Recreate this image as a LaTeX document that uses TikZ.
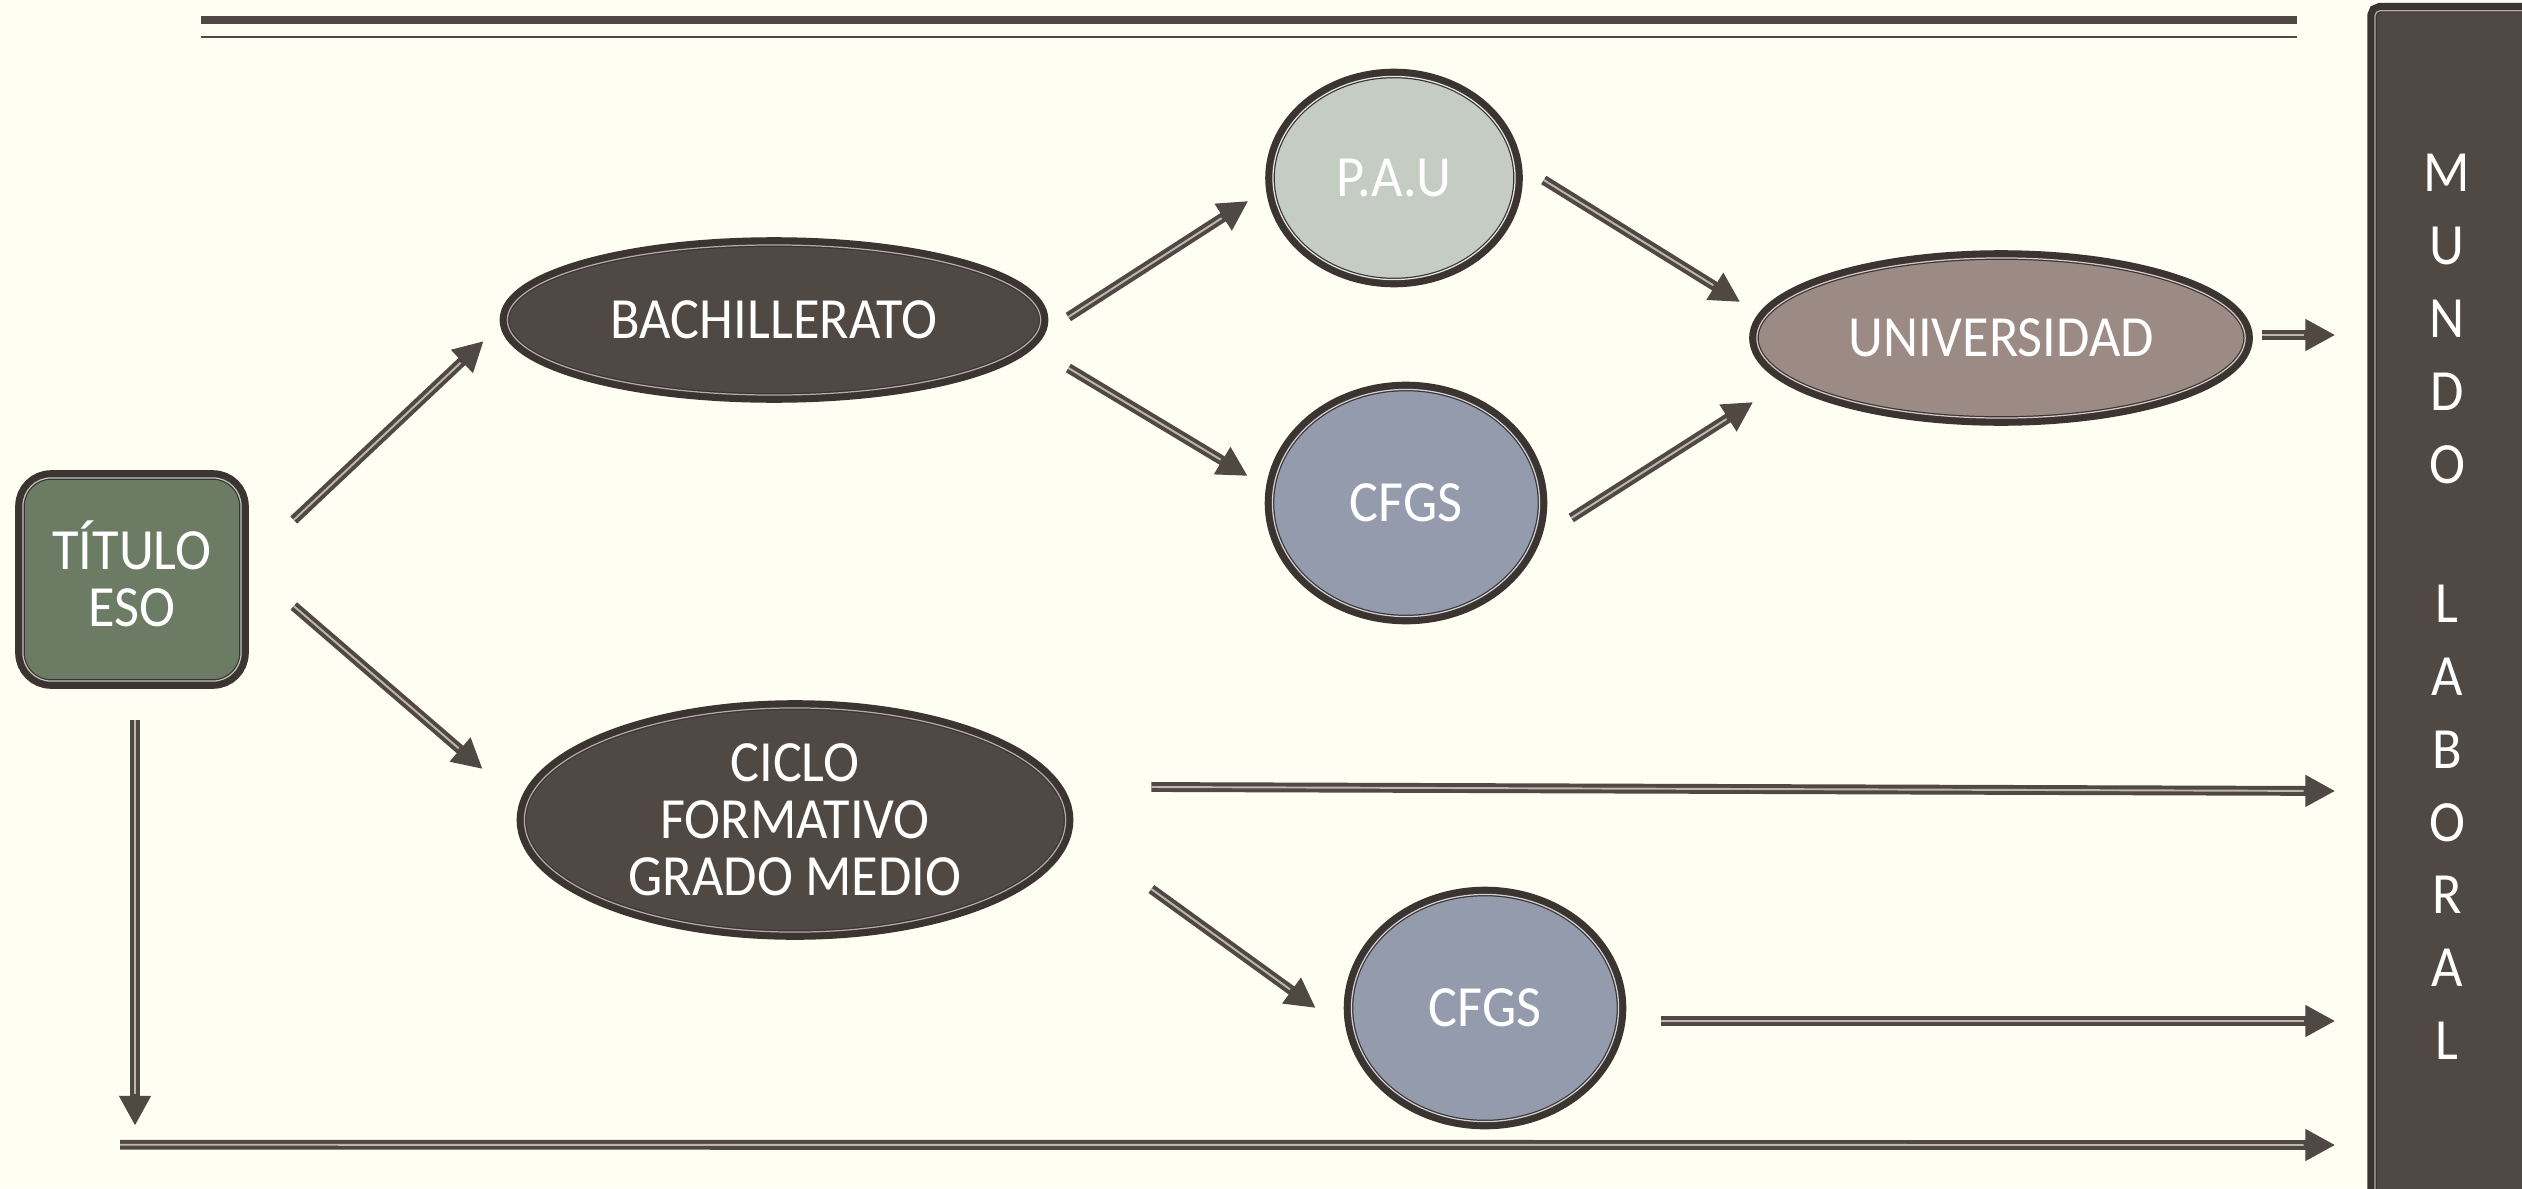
\documentclass[tikz,border=0pt]{standalone}
\usepackage{fontspec}
\setmainfont{Carlito}[FakeStretch=0.93]
\usetikzlibrary{shapes.geometric, arrows.meta, calc}

\definecolor{paper}{HTML}{FEFEF2}
\definecolor{dark}{HTML}{504843}
\definecolor{edge}{HTML}{3B3431}
\definecolor{stripe}{HTML}{BDB7AF}
\definecolor{titgreen}{HTML}{6C7B63}
\definecolor{paucol}{HTML}{C4CCC3}
\definecolor{cfgscol}{HTML}{949BAD}
\definecolor{univcol}{HTML}{9C8B85}

\begin{document}
\begin{tikzpicture}[x=0.01cm, y=-0.01cm,
    box/.style={draw=edge, line width=0.35pt, double=#1!45!white, double distance=0.35pt,
        fill=#1, preaction={draw=edge, line width=4.4pt}, outer sep=1.9pt, inner sep=0pt,
        text=white, align=center, font=\fontsize{16.6}{16.2}\selectfont},
    bub/.style={box=#1, ellipse},
    arr/.style={draw=dark, line width=2.8pt, -{Triangle[length=8.5pt, width=8.5pt]},
        postaction={draw=stripe, line width=0.55pt, shorten >=9pt, -}}]
        \useasboundingbox (0,0) rectangle (2522,1188);
        \fill[paper] (0,0) rectangle (2522,1188);

        % lines at the top
        \draw[dark, line width=2.3pt] (201,20) -- (2297,20);
        \draw[dark, line width=0.85pt] (201,37) -- (2297,37);

        \node[box=titgreen, rounded corners=8pt, minimum width=2.18cm, minimum height=2.03cm] (tit) at (132,579.5) {T\smash{Í}TULO\\ESO};
        \node[bub=dark, minimum width=5.33cm, minimum height=1.5cm] (bach) at (774,320) {BACHILLERATO};
        \node[bub=paucol, minimum width=2.42cm, minimum height=2.03cm] (pau) at (1394,178) {P.A.U};
        \node[bub=cfgscol, minimum width=2.67cm, minimum height=2.27cm] (cfgsa) at (1406,503) {CFGS};
        \node[bub=univcol, minimum width=4.88cm, minimum height=1.6cm] (univ) at (2001,338) {UNIVERSIDAD};
        \node[bub=dark, minimum width=5.41cm, minimum height=2.24cm] (ciclo) at (795,820) {CICLO\\FORMATIVO\\GRADO MEDIO};
        \node[bub=cfgscol, minimum width=2.67cm, minimum height=2.27cm] (cfgsb) at (1485,1008) {CFGS};

        \node[box=dark, rounded corners=1.5pt, minimum width=1.7cm, minimum height=11.9cm] (bar) at (2460,606) {};
        \node[text=white, align=center, font=\fontsize{16.6}{20.7}\selectfont] (mundo) at (2447,607) {M\\U\\N\\D\\O\\[19pt]L\\A\\B\\O\\R\\A\\L};

        \draw[arr] ($(tit.east)+(46,-59.5)$) -- ($(bach.west)+(-17,21)$);
        \draw[arr] ($(tit.east)+(46,26.5)$) -- ($(ciclo.west)+(-35,-51)$);
        \draw[arr] ($(bach.east)+(21,-3)$) -- ($(pau.west)+(-18,23)$);
        \draw[arr] ($(bach.east)+(21,48)$) -- ($(cfgsa.west)+(-18,-27)$);
        \draw[arr] ($(pau.east)+(22,2)$) -- ($(univ.west)+(-10,-36)$);
        \draw[arr] ($(cfgsa.east)+(25,15)$) -- ($(univ.west)+(3,64)$);
        \draw[arr] ($(univ.east)+(10,-3)$) -- ($(bar.west)+(-33,-271)$);
        \draw[arr] ($(ciclo.east)+(79,-33)$) -- ($(bar.west)+(-33,185)$);
        \draw[arr] ($(ciclo.east)+(79,69)$) -- ($(cfgsb.west)+(-29,0)$);
        \draw[arr] ($(cfgsb.east)+(36,13)$) -- ($(bar.west)+(-33,415)$);
        \draw[arr] ($(tit.south)+(3,32)$) -- ($(tit.south)+(3,438)$);
        \draw[arr] ($(tit.south)+(-12,457)$) -- ($(bar.west)+(-33,539)$);
\end{tikzpicture}
\end{document}
